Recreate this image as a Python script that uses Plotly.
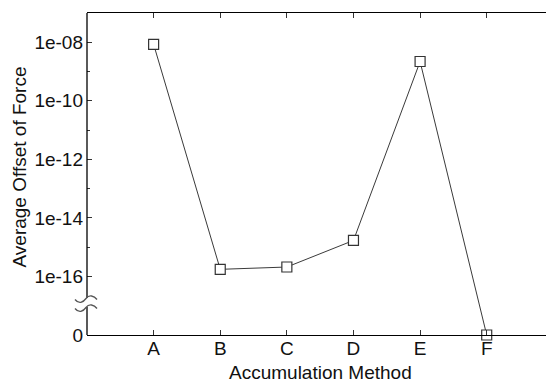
import plotly.graph_objects as go

# ---- data ----
methods = ["A", "B", "C", "D", "E", "F"]
avg_offset = [8.5e-9, 1.75e-16, 2.1e-16, 1.7e-15, 2.2e-9, 0.0]

# axis break: value 0 is shown at the position of 1e-18 on the log scale
ZERO_POS = 1e-18
y_tickvals = [1e-18, 1e-16, 1e-14, 1e-12, 1e-10, 1e-08]
y_ticktext = ["0", "1e-16", "1e-14", "1e-12", "1e-10", "1e-08"]
y_minor = [1e-15, 1e-13, 1e-11, 1e-09]

plot_vals = [v if v > 0 else ZERO_POS for v in avg_offset]

W, H = 546, 379
ML, MR, MT, MB = 87, 0, 13, 44
PH = H - MT - MB
FONT = "Liberation Sans, Arial, sans-serif"

fig = go.Figure()
fig.add_trace(go.Scatter(
    x=methods, y=plot_vals, mode="lines+markers",
    line=dict(color="#3a3a3a", width=1),
    marker=dict(symbol="square", size=10, color="white",
                line=dict(color="#333333", width=1.2)),
    cliponaxis=False, showlegend=False,
))

def pf(pix):
    """page pixel row -> paper fraction"""
    return (H - MB - pix) / PH

up_c, lo_c = 299.5, 308.5
wave = "M -12,0 C -8,-5 -4,-3 -1,1 C 2,5 7,4 10,0"
shapes = [
    dict(type="line", xref="paper", yref="paper", x0=0, x1=0,
         y0=pf(up_c - 1.5), y1=1, line=dict(color="black", width=1.3), layer="above"),
    dict(type="line", xref="paper", yref="paper", x0=0, x1=0,
         y0=0, y1=pf(lo_c - 1.5), line=dict(color="black", width=1.3), layer="above"),
]
for c in (up_c, lo_c):
    shapes.append(dict(type="path", xref="paper", yref="paper",
                       xsizemode="pixel", ysizemode="pixel",
                       xanchor=0, yanchor=pf(c), path=wave,
                       line=dict(color="#555555", width=1.3), layer="above"))

fig.update_layout(
    width=W, height=H,
    margin=dict(l=ML, r=MR, t=MT, b=MB, pad=0),
    paper_bgcolor="white", plot_bgcolor="white",
    font=dict(family=FONT, size=19, color="#111111"),
    xaxis=dict(
        type="category", range=[-1, 5.89],
        showline=True, linecolor="black", linewidth=1.3, mirror="ticks",
        ticks="inside", ticklen=5, tickwidth=1, tickcolor="#333333",
        showgrid=False, zeroline=False, ticklabelstandoff=-4,
    ),
    yaxis=dict(
        type="log", range=[-18, -7],
        tickmode="array", tickvals=y_tickvals, ticktext=y_ticktext,
        showline=False, ticks="inside", ticklen=5, tickwidth=1, tickcolor="#333333",
        minor=dict(tickmode="array", tickvals=y_minor, ticks="inside",
                   ticklen=3, tickwidth=1, tickcolor="#333333", showgrid=False),
        showgrid=False, zeroline=False, ticklabelstandoff=3,
    ),
    shapes=shapes,
    annotations=[
        dict(text="Accumulation Method", xref="paper", yref="paper",
             x=(320 - ML) / (W - ML - MR), y=pf(372.5), xanchor="center", yanchor="middle",
             showarrow=False, font=dict(size=19, family=FONT, color="#111111")),
        dict(text="Average Offset of Force", xref="paper", yref="paper",
             x=-(ML - 19) / (W - ML - MR), y=pf(167.5), xanchor="center", yanchor="middle",
             textangle=-90, showarrow=False, font=dict(size=19, family=FONT, color="#111111")),
    ],
)

fig.write_html("out.html")
